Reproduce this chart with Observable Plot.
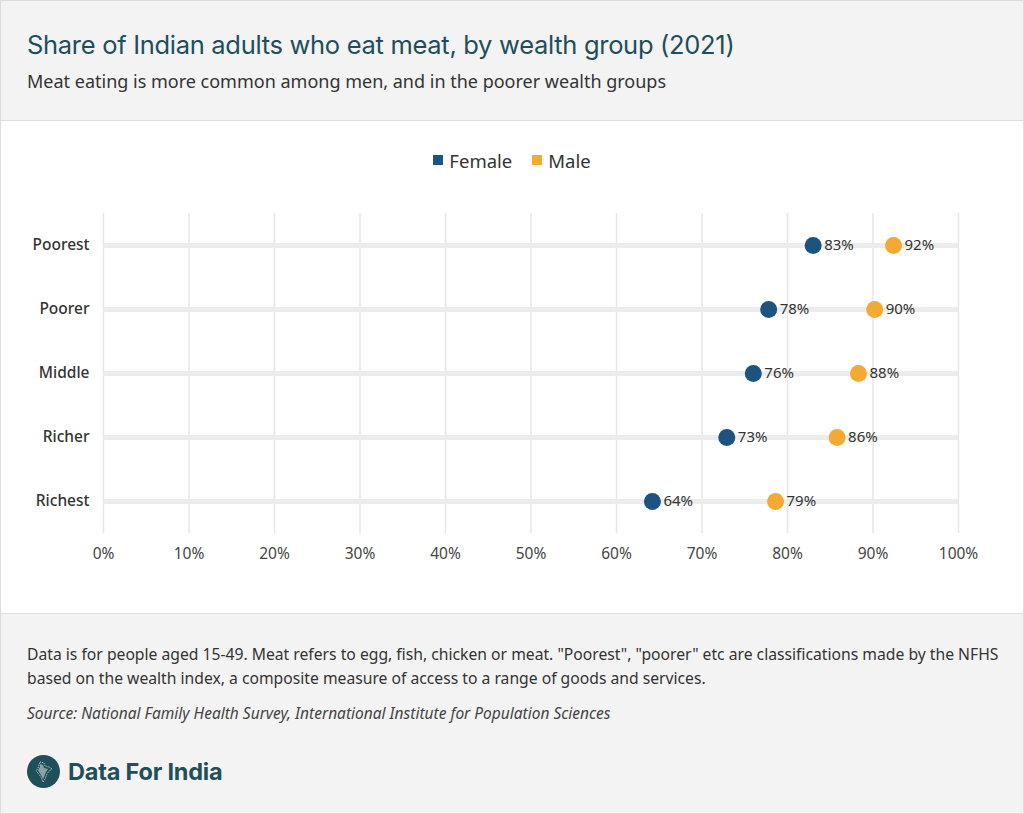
<!DOCTYPE html>
<html>
<head>
<meta charset="utf-8">
<script src="https://cdn.jsdelivr.net/npm/d3@7"></script>
<script src="https://cdn.jsdelivr.net/npm/@observablehq/plot@0.6"></script>
<style>
  html, body { margin: 0; padding: 0; background: #fff; }
  #wrap { position: relative; width: 1022px; height: 812px; border: 1px solid #dcdcdc; overflow: hidden; font-family: "Noto Sans", sans-serif; }
  #header { position: absolute; left: 0; top: 0; width: 1022px; height: 119px; background: #f3f3f3; border-bottom: 1px solid #dedede; }
  #title { position: absolute; left: 26px; top: 28px; font-family: Inter, sans-serif; font-size: 25.5px; font-weight: 400; color: #1f4e5b; letter-spacing: -0.3px; white-space: nowrap; }
  #subtitle { position: absolute; left: 26px; top: 68px; font-size: 18px; color: #333; white-space: nowrap; }
  #legend { position: absolute; left: 0; top: 144px; width: 1022px; text-align: center; font-size: 18.5px; color: #333; }
  #legend span.item { display: inline-flex; align-items: center; margin: 0 10px; }
  #legend span.sw { display: inline-block; width: 10px; height: 10px; margin-right: 6px; }
  #chart { position: absolute; left: 0; top: 190px; }
  #footer { position: absolute; left: 0; top: 612px; width: 1022px; height: 200px; background: #f3f3f3; border-top: 1px solid #dedede; }
  #note { position: absolute; left: 26px; top: 28px; width: 985px; font-size: 15.7px; line-height: 24px; color: #333; }
  #source { position: absolute; left: 26px; top: 88px; font-size: 15.5px; font-style: italic; color: #444; }
  #logo { position: absolute; left: 26px; top: 141px; display: flex; align-items: center; }
  #logo .txt { font-family: Inter, sans-serif; font-weight: 700; font-size: 23.5px; color: #1f4f58; margin-left: 8px; letter-spacing: -0.2px; }
</style>
</head>
<body>
<div id="wrap">
  <div id="header">
    <div id="title">Share of Indian adults who eat meat, by wealth group (2021)</div>
    <div id="subtitle">Meat eating is more common among men, and in the poorer wealth groups</div>
  </div>
  <div id="legend"></div>
  <div id="chart"></div>
  <div id="footer">
    <div id="note">Data is for people aged 15-49. Meat refers to egg, fish, chicken or meat. "Poorest", "poorer" etc are classifications made by the NFHS based on the wealth index, a composite measure of access to a range of goods and services.</div>
    <div id="source">Source: National Family Health Survey, International Institute for Population Sciences</div>
    <div id="logo">
      <svg width="33" height="33" viewBox="0 0 33 33">
        <circle cx="16.5" cy="16.5" r="16.5" fill="#1f4f58"/>
        <path d="M13 7 L17 8 L18 11 L22 12 L25 14 L22 16 L20 19 L18 24 L16 27 L14 22 L11 18 L9 16 L11 13 L12 10 Z" fill="none" stroke="#cfdcdc" stroke-width="1" stroke-dasharray="1 1"/>
        <path d="M13 9 L16 10 L17 13 L21 14 L19 17 L17 22 L16 24 L14 20 L12 17 L11 15 L13 12 Z" fill="#cfdcdc" opacity="0.6"/>
      </svg>
      <span class="txt">Data For India</span>
    </div>
  </div>
</div>
<script>
const groups = ["Poorest", "Poorer", "Middle", "Richer", "Richest"];
const female = [83.0, 77.8, 76.0, 72.9, 64.2];
const male = [92.4, 90.2, 88.3, 85.8, 78.6];
const seriesNames = ["Female", "Male"];
const seriesColors = ["#1d5381", "#f5a935"];
const xTicks = [0, 10, 20, 30, 40, 50, 60, 70, 80, 90, 100];

const data = [];
groups.forEach((g, i) => {
  data.push({group: g, sex: "Female", value: female[i]});
  data.push({group: g, sex: "Male", value: male[i]});
});

const legend = document.getElementById("legend");
seriesNames.forEach((s, i) => {
  const item = document.createElement("span");
  item.className = "item";
  item.innerHTML = `<span class="sw" style="background:${seriesColors[i]}"></span>${s}`;
  legend.appendChild(item);
});

const chart = Plot.plot({
  width: 1022,
  height: 392,
  marginLeft: 102,
  marginRight: 65,
  marginTop: 22,
  marginBottom: 50,
  style: {fontFamily: "Noto Sans, sans-serif", fontSize: "15px", color: "#333", background: "transparent"},
  x: {domain: [0, 100], ticks: xTicks, tickFormat: d => d + "%", label: null},
  y: {type: "band", domain: groups, label: null, padding: 0},
  color: {domain: seriesNames, range: seriesColors},
  marks: [
    Plot.gridX(xTicks, {stroke: "#e6e6e6", strokeOpacity: 1, strokeWidth: 1.5}),
    Plot.ruleY(groups, {y: d => d, x1: 0, x2: 100, stroke: "#ececec", strokeWidth: 5}),
    Plot.axisX(xTicks, {tickSize: 0, tickPadding: 14, tickFormat: d => d + "%", fontSize: 15.5, fill: "#444"}),
    Plot.axisY({tickSize: 0, tickPadding: 14, fontSize: 15.5, fill: "#333", fontWeight: 500}),
    Plot.dot(data, {x: "value", y: "group", fill: "sex", r: 8.5}),
    Plot.text(data, {x: "value", y: "group", text: d => Math.round(d.value) + "%", dx: 11, textAnchor: "start", fill: "#333", fontSize: 15})
  ]
});
document.getElementById("chart").appendChild(chart);
</script>
</body>
</html>
